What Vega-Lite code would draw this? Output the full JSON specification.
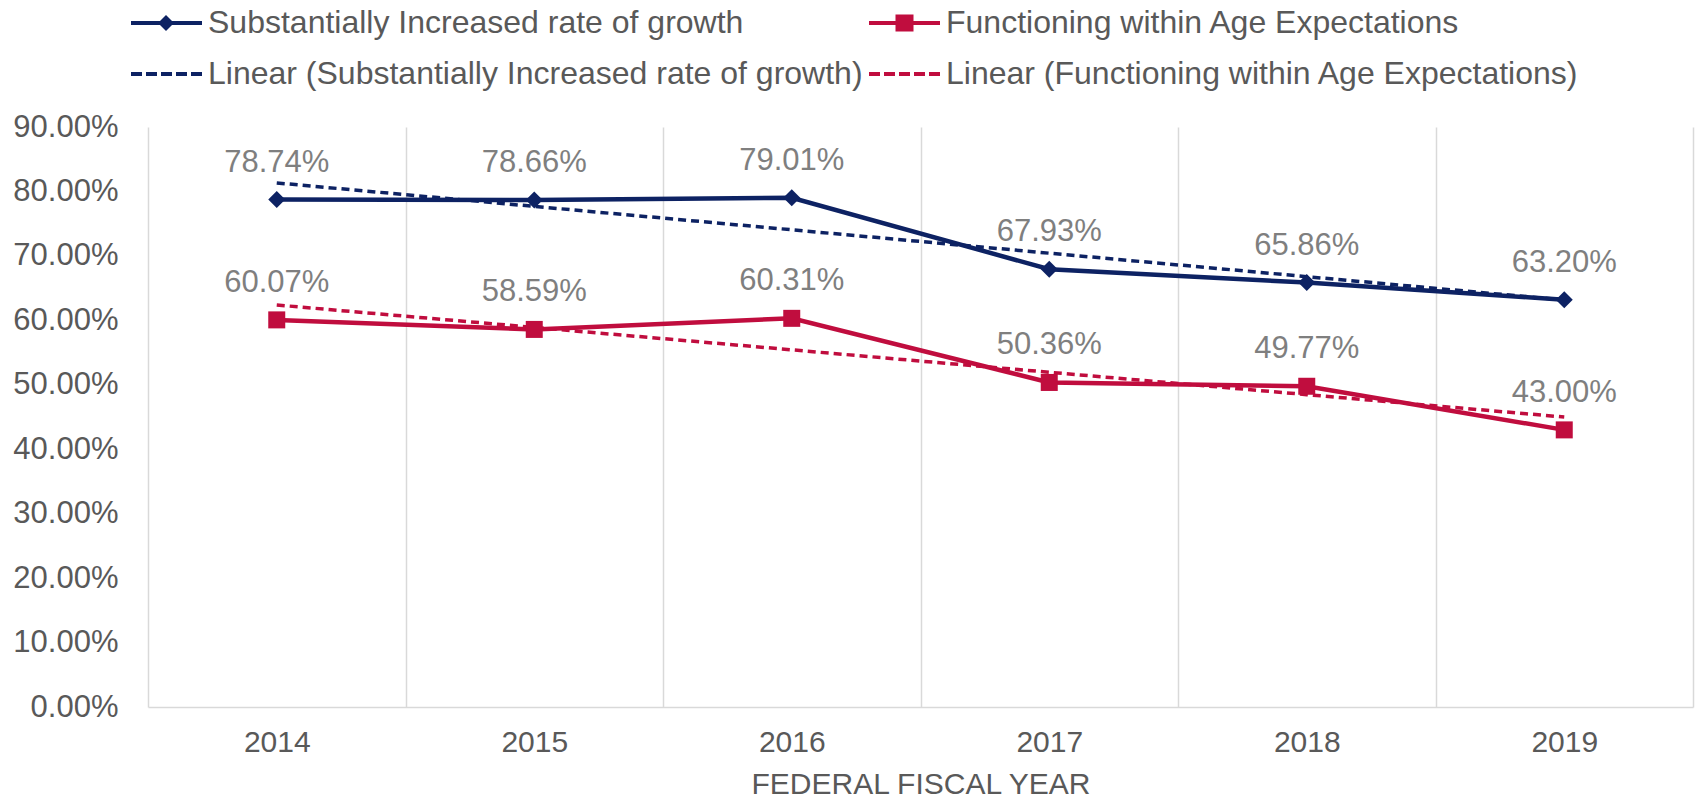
{
  "$schema": "https://vega.github.io/schema/vega-lite/v6.json",
  "autosize": {"type": "none"},
  "width": 1545,
  "height": 580,
  "padding": {"left": 148, "top": 127, "right": 5, "bottom": 91},
  "background": "white",
  "config": {"font": "Liberation Sans", "view": {"stroke": null}},
  "data": {
    "values": [
      {"year": "2014", "series": "Substantially Increased rate of growth", "kind": "actual", "value": 0.7874},
      {"year": "2015", "series": "Substantially Increased rate of growth", "kind": "actual", "value": 0.7866},
      {"year": "2016", "series": "Substantially Increased rate of growth", "kind": "actual", "value": 0.7901},
      {"year": "2017", "series": "Substantially Increased rate of growth", "kind": "actual", "value": 0.6793},
      {"year": "2018", "series": "Substantially Increased rate of growth", "kind": "actual", "value": 0.6586},
      {"year": "2019", "series": "Substantially Increased rate of growth", "kind": "actual", "value": 0.6320},
      {"year": "2014", "series": "Functioning within Age Expectations", "kind": "actual", "value": 0.6007},
      {"year": "2015", "series": "Functioning within Age Expectations", "kind": "actual", "value": 0.5859},
      {"year": "2016", "series": "Functioning within Age Expectations", "kind": "actual", "value": 0.6031},
      {"year": "2017", "series": "Functioning within Age Expectations", "kind": "actual", "value": 0.5036},
      {"year": "2018", "series": "Functioning within Age Expectations", "kind": "actual", "value": 0.4977},
      {"year": "2019", "series": "Functioning within Age Expectations", "kind": "actual", "value": 0.4300},
      {"year": "2014", "series": "Linear (Substantially Increased rate of growth)", "kind": "trend", "value": 0.8132},
      {"year": "2015", "series": "Linear (Substantially Increased rate of growth)", "kind": "trend", "value": 0.7768},
      {"year": "2016", "series": "Linear (Substantially Increased rate of growth)", "kind": "trend", "value": 0.7405},
      {"year": "2017", "series": "Linear (Substantially Increased rate of growth)", "kind": "trend", "value": 0.7042},
      {"year": "2018", "series": "Linear (Substantially Increased rate of growth)", "kind": "trend", "value": 0.6678},
      {"year": "2019", "series": "Linear (Substantially Increased rate of growth)", "kind": "trend", "value": 0.6315},
      {"year": "2014", "series": "Linear (Functioning within Age Expectations)", "kind": "trend", "value": 0.6238},
      {"year": "2015", "series": "Linear (Functioning within Age Expectations)", "kind": "trend", "value": 0.5890},
      {"year": "2016", "series": "Linear (Functioning within Age Expectations)", "kind": "trend", "value": 0.5542},
      {"year": "2017", "series": "Linear (Functioning within Age Expectations)", "kind": "trend", "value": 0.5194},
      {"year": "2018", "series": "Linear (Functioning within Age Expectations)", "kind": "trend", "value": 0.4847},
      {"year": "2019", "series": "Linear (Functioning within Age Expectations)", "kind": "trend", "value": 0.4499}
    ]
  },
  "encoding": {
    "x": {
      "field": "year",
      "type": "ordinal",
      "scale": {"type": "band", "paddingInner": 0, "paddingOuter": 0},
      "axis": {
        "tickBand": "extent",
        "grid": true,
        "gridColor": "#d9d9d9",
        "gridWidth": 1.5,
        "ticks": false,
        "domainColor": "#d9d9d9",
        "domainWidth": 1.5,
        "labelFontSize": 30,
        "labelColor": "#595959",
        "labelPadding": 20,
        "labelAngle": 0,
        "title": "FEDERAL FISCAL YEAR",
        "titleFontSize": 30,
        "titleFontWeight": "normal",
        "titleColor": "#595959",
        "titlePadding": 12
      }
    },
    "y": {
      "field": "value",
      "type": "quantitative",
      "scale": {"domain": [0, 0.9], "nice": false},
      "axis": {
        "values": [0, 0.1, 0.2, 0.3, 0.4, 0.5, 0.6, 0.7, 0.8, 0.9],
        "format": ".2%",
        "grid": false,
        "domain": false,
        "ticks": false,
        "labelFontSize": 31,
        "labelColor": "#595959",
        "labelPadding": 30,
        "title": null
      }
    }
  },
  "layer": [
    {
      "transform": [{"filter": "datum.kind === 'actual'"}],
      "mark": {"type": "line", "strokeWidth": 4.5},
      "encoding": {
        "color": {
          "field": "series",
          "type": "nominal",
          "scale": {
            "domain": [
              "Substantially Increased rate of growth",
              "Linear (Substantially Increased rate of growth)",
              "Functioning within Age Expectations",
              "Linear (Functioning within Age Expectations)"
            ],
            "range": ["#0d2263", "#0d2263", "#c00d3e", "#c00d3e"]
          },
          "legend": {
            "title": null,
            "orient": "none",
            "legendX": -23,
            "legendY": -120,
            "columns": 2,
            "columnPadding": -1,
            "rowPadding": 19,
            "padding": 0,
            "symbolSize": 400,
            "symbolStrokeWidth": 0,
            "labelFontSize": 32,
            "labelColor": "#595959",
            "labelOffset": 51,
            "labelLimit": 1200,
            "encode": {
              "symbols": {
                "update": {
                  "shape": {"signal": "datum.value === 'Substantially Increased rate of growth' ? 'M-1,-0.2H6.1V0.2H-1Z M2.5,-0.8L3.3,0L2.5,0.8L1.7,0Z' : datum.value === 'Functioning within Age Expectations' ? 'M-1,-0.2H6.1V0.2H-1Z M1.65,-0.85H3.45V0.85H1.65Z' : 'M-1,-0.2H0.1V0.2H-1Z M0.5,-0.2H1.6V0.2H0.5Z M2,-0.2H3.1V0.2H2Z M3.5,-0.2H4.6V0.2H3.5Z M5,-0.2H6.1V0.2H5Z'"},
                  "fill": {"signal": "indexof(datum.value, 'Functioning') >= 0 ? '#c00d3e' : '#0d2263'"},
                  "stroke": {"value": "transparent"},
                  "strokeWidth": {"value": 0},
                  "strokeDash": {"value": []},
                  "opacity": {"value": 1}
                }
              }
            }
          }
        }
      }
    },
    {
      "transform": [{"filter": "datum.kind === 'trend'"}],
      "mark": {"type": "line", "strokeWidth": 3.5, "strokeDash": [8, 5]},
      "encoding": {
        "color": {"field": "series", "type": "nominal"}
      }
    },
    {
      "transform": [{"filter": "datum.kind === 'actual'"}],
      "mark": {"type": "point", "filled": true, "opacity": 1, "size": 289},
      "encoding": {
        "color": {"field": "series", "type": "nominal"},
        "shape": {
          "field": "series",
          "type": "nominal",
          "scale": {
            "domain": ["Substantially Increased rate of growth", "Functioning within Age Expectations"],
            "range": ["diamond", "square"]
          },
          "legend": null
        }
      }
    },
    {
      "transform": [{"filter": "datum.kind === 'actual'"}],
      "mark": {"type": "text", "dy": -28, "fontSize": 31, "fill": "#7f7f7f", "baseline": "alphabetic", "align": "center"},
      "encoding": {
        "text": {"field": "value", "type": "quantitative", "format": ".2%"}
      }
    }
  ]
}
